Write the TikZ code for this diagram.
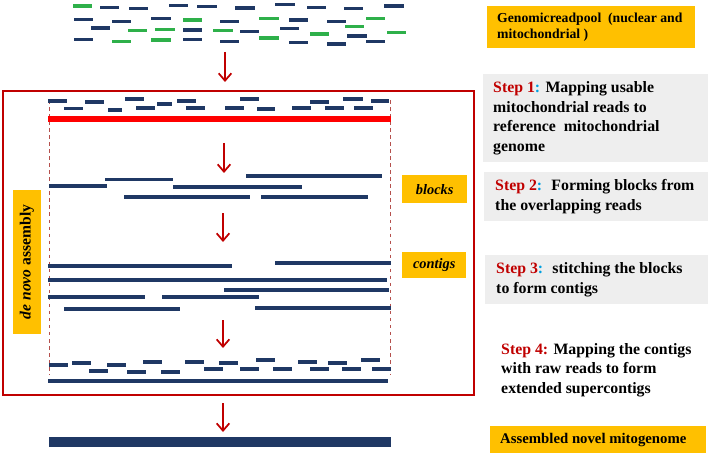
\documentclass[tikz,border=0pt]{standalone}
\usepackage{fontspec}
\setmainfont{Liberation Serif}
\usepackage{xcolor}
\usepackage{tikz}
\usetikzlibrary{arrows.meta,positioning}

\definecolor{readblue}{HTML}{1F3864}
\definecolor{readgreen}{HTML}{2EB04A}
\definecolor{boxred}{HTML}{C00000}
\definecolor{refred}{HTML}{FF0000}
\definecolor{labelyellow}{HTML}{FFC000}
\definecolor{stepgray}{HTML}{EEEEEE}
\definecolor{colonblue}{HTML}{00A0E0}
\definecolor{guidered}{HTML}{B5504D}

\newcommand{\stephead}[2]{\textcolor{boxred}{Step #1}\textcolor{#2}{:}}

\begin{document}
\begin{tikzpicture}[
    x=0.03cm, y=-0.03cm,
    % short reads and assembled pieces
    read/.style={draw=readblue, line width=2.6pt},
    greenread/.style={read, draw=readgreen},
    block/.style={draw=readblue, line width=3pt},
    % arrows between the stages
    flow/.style={draw=boxred, line width=1.5pt, -{Straight Barb[length=2.2mm,width=3.8mm]}},
    guide/.style={draw=guidered, line width=0.6pt, dashed},
    % boxes and texts on the right
    panel/.style={anchor=north west, inner sep=0pt},
    graybox/.style={panel, fill=stepgray},
    yellowbox/.style={panel, fill=labelyellow},
    steptext/.style={anchor=west, inner sep=0pt, align=left,
      font=\fontsize{13.5}{16.6}\selectfont\bfseries},
    tagbox/.style={yellowbox, font=\fontsize{12.3}{14}\selectfont\bfseries\itshape},
  ]
  \useasboundingbox (0,0) rectangle (708,456);

  % read pool
  \foreach \xa/\xb/\yy in {100/119/7.3, 129/148/8.7, 169/188/5.3, 197/217/6.7,
      235/255/8, 275/295/4.7, 307/326/7.3, 344/363/8.7, 384/404/6,
      74/93/19.3, 112/131/21.3, 151/171/18.3, 220/239/21.3, 289/308/20,
      327/346/21.3, 91/110/28, 183/202/30, 240/259/31.3, 280/299/28.7,
      74/93/39.3, 183/202/39.3, 220/239/41.3, 289/308/42.7, 327/346/44,
      347/367/36, 366/385/41.3}
    \draw[read] (\xa,\yy) -- (\xb,\yy);
  \foreach \xa/\xb/\yy in {73/92/6, 183/202/20, 259/279/18.7, 366/385/18.7,
      128/147/30.7, 155/175/29.3, 213/233/30.7, 310/329/34, 345/364/26.7,
      387/406/32.7, 112/131/41.3, 151/171/40, 259/279/38}
    \draw[greenread] (\xa,\yy) -- (\xb,\yy);

  \node[yellowbox, minimum width=6.24cm, minimum height=1.26cm] (pool) at (487,6) {};
  \node[steptext, font=\fontsize{11.7}{14.2}\selectfont\bfseries,
    right=0.3cm of pool.west] (pooltext) {Genomicreadpool~ (nuclear and\\mitochondrial )};

  \coordinate (pooldown) at (225,52);
  \coordinate (mapup) at (225,82);
  \draw[flow] (pooldown) -- (mapup);

  % de novo assembly frame
  \draw[boxred, line width=1.7pt] (3,91) rectangle (474,395);
  \coordinate (guidelt) at (49,100);
  \coordinate (guidelb) at (49,375);
  \coordinate (guidert) at (390,100);
  \coordinate (guiderb) at (390,375);
  \draw[guide] (guidelt) -- (guidelb);
  \draw[guide] (guidert) -- (guiderb);

  \node[fill=labelyellow, rotate=90, inner sep=0pt, minimum width=4.32cm,
    minimum height=0.84cm, font=\fontsize{13.3}{15}\selectfont\bfseries]
    (denovo) at (27,262) {\textit{de novo} assembly};

  % step 1: reads on the reference
  \foreach \xa/\xb/\yy in {48/67/101, 85/104/102, 125/144/99, 157/172/104,
      177/196/101, 240/259/99, 310/329/102, 343/363/99, 371/389/101,
      64/83/108.7, 108/122/110, 136/155/108, 186/205/108, 225/244/108,
      257/275/109, 292/311/108, 325/344/108, 354/373/108}
    \draw[read] (\xa,\yy) -- (\xb,\yy);
  \draw[refred, line width=5.5pt] (48,119) -- (391,119);

  \coordinate (refdown) at (224,143);
  \coordinate (blockup) at (224,173);
  \draw[flow] (refdown) -- (blockup);

  % step 2: blocks
  \foreach \xa/\xb/\yy in {246/382/176, 105/173/179.5, 49/107/186,
      173/302/187, 124/250/197, 261/368/197}
    \draw[block] (\xa,\yy) -- (\xb,\yy);

  \coordinate (blockdown) at (223,213);
  \coordinate (contigup) at (223,242);
  \draw[flow] (blockdown) -- (contigup);

  % step 3: contigs
  \foreach \xa/\xb/\yy in {48/232/266, 275/391/263, 48/387/280, 224/389/290,
      48/145/297, 162/259/297, 64/180/309, 255/391/308}
    \draw[block] (\xa,\yy) -- (\xb,\yy);

  \coordinate (contigdown) at (223,320);
  \coordinate (superup) at (223,348);
  \draw[flow] (contigdown) -- (superup);

  % step 4: raw reads on the contigs
  \foreach \xa/\xb/\yy in {49/68/365, 72/91/363, 107/126/365, 143/162/362,
      185/204/362, 219/238/363, 256/275/360, 298/317/362, 328/347/363,
      361/380/360, 89/108/371, 127/146/372, 161/180/372, 204/223/369,
      240/259/369, 273/292/369, 310/329/369, 342/361/369, 372/391/369}
    \draw[read] (\xa,\yy) -- (\xb,\yy);
  \draw[draw=readblue, line width=3.4pt] (48,381) -- (388,381);

  \coordinate (superdown) at (223,403);
  \coordinate (genomeup) at (223,432);
  \draw[flow] (superdown) -- (genomeup);

  % assembled mitogenome
  \draw[draw=readblue, line width=7.7pt] (49,442) -- (391,442);

  % labels
  \node[tagbox, minimum width=1.95cm, minimum height=0.84cm]
    (blocks) at (402,175) {blocks};
  \node[tagbox, minimum width=1.92cm, minimum height=0.78cm]
    (contigs) at (402,252) {contigs};

  \node[graybox, minimum width=6.75cm, minimum height=2.64cm] (stepone) at (483,74) {};
  \node[steptext, right=0.3cm of stepone.west] (steponetext)
    {\stephead{1}{colonblue} Mapping usable\\mitochondrial reads to\\reference~ mitochondrial\\genome};

  \node[graybox, minimum width=6.72cm, minimum height=1.47cm] (steptwo) at (484,172) {};
  \node[steptext, right=0.33cm of steptwo.west] (steptwotext)
    {\stephead{2}{colonblue}~ Forming blocks from\\the overlapping reads};

  \node[graybox, minimum width=6.69cm, minimum height=1.47cm] (stepthree) at (485,255) {};
  \node[steptext, right=0.33cm of stepthree.west] (stepthreetext)
    {\stephead{3}{colonblue}~ stitching the blocks\\to form contigs};

  \node[steptext] (stepfour) at (501,370)
    {\stephead{4}{boxred} Mapping the contigs\\with raw reads to form\\extended supercontigs};

  \node[yellowbox, minimum width=6.48cm, minimum height=0.81cm] (assembled) at (490,426) {};
  \node[steptext, font=\fontsize{12.6}{14}\selectfont\bfseries,
    right=0.3cm of assembled.west] (assembledtext) {Assembled novel mitogenome};
\end{tikzpicture}
\end{document}
